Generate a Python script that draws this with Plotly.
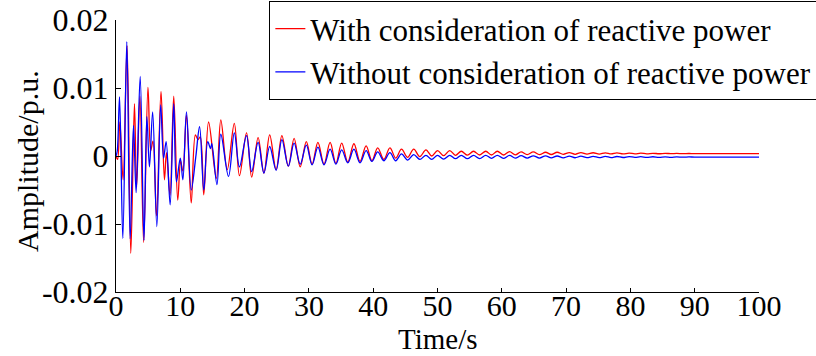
import plotly.graph_objects as go

# ---- data (extrema of the oscillations) ----
red_t_early = [0.0, 0.25, 0.6, 1.1, 1.72, 2.3, 2.87, 3.2, 3.72, 4.3, 4.97, 5.4, 5.75, 6.3, 7.0, 7.53,
               7.85, 8.4, 8.98, 9.6, 10.05, 10.4, 10.96, 11.7, 12.35, 12.75, 13.1, 13.65, 14.4, 15.6,
               16.3, 17.3]
red_v_early = [0.0, -0.0005, 0.005, -0.0035, 0.0162, -0.0143, 0.0077, -0.0046, 0.0088, -0.0127,
               0.0101, 0.0008, 0.0022, -0.0088, 0.0095, -0.0035, 0.0005, -0.0058, 0.0088, -0.0065,
               -0.0008, -0.0022, 0.006, -0.0069, 0.0031, 0.0024, 0.0028, -0.0057, 0.005, -0.0033,
               0.0053, -0.002]

blue_t_early = [0.0, 0.2, 0.55, 1.06, 1.68, 2.2, 2.72, 3.13, 3.76, 4.35, 4.8, 5.2, 5.7, 6.35, 6.95,
                7.4, 7.8, 8.42, 8.98, 9.4, 10.0, 10.4, 10.96, 11.7, 12.4, 13.0, 13.65, 14.27, 14.7,
                14.9, 15.7, 16.3, 17.5]
blue_v_early = [0.0, 0.0008, 0.0087, -0.0121, 0.0168, -0.0122, 0.0045, -0.0054, 0.0117, -0.0124,
                0.0058, -0.0016, 0.0065, -0.0104, 0.0075, -0.0003, 0.0021, -0.0072, 0.0077, -0.0038,
                -0.0003, -0.0035, 0.0065, -0.005, -0.0002, 0.0043, -0.005, 0.0021, 0.0011, 0.0018,
                -0.0042, 0.0032, -0.003]

tail_t = [18.4, 19.2, 20.3, 21.1, 22.1, 23.0, 23.9, 24.9, 25.8, 26.8, 27.7,
          28.65, 29.6, 30.5, 31.4, 32.35, 33.3, 34.2, 35.1, 36.05, 37.0, 37.95, 38.9, 39.8, 40.7,
          41.65, 42.6, 43.5, 44.4, 45.35, 46.3, 47.25, 48.2, 49.1, 50.0, 50.95, 51.9, 52.8, 53.7,
          54.65, 55.6, 56.55, 57.5, 58.4, 59.3, 60.25, 61.2, 62.1, 63.0, 63.95, 64.9, 65.85, 66.8,
          67.7, 68.6, 69.55, 70.5, 71.4, 72.3, 73.25, 74.2, 75.15, 76.1, 77.0, 77.9, 78.85, 79.8,
          80.7, 81.6, 82.55, 83.5, 84.45, 85.4, 86.3, 87.2, 88.15, 89.1, 90.0, 95.0, 100.0]

red_v_tail = [0.0048, -0.0029, 0.0034, -0.0031, 0.0027, -0.0025, 0.0031, -0.0020, 0.0030, -0.0015, 0.0026,
              -0.0016, 0.0021, -0.0012, 0.0020, -0.0012, 0.0020, -0.0011, 0.0019, -0.0009, 0.0018,
              -0.0008, 0.0015, -0.0007, 0.0012, -0.0005, 0.0012, -0.0003, 0.0010, -0.0002, 0.0010,
              -0.0001, 0.0009, 0.0, 0.0008, 0.00005, 0.0008, 0.0001, 0.0007, 0.00012, 0.0007,
              0.00015, 0.0007, 0.00015, 0.0007, 0.00015, 0.00065, 0.00018, 0.0006, 0.0002, 0.0006,
              0.0002, 0.00055, 0.00022, 0.00055, 0.00025, 0.0005, 0.00025, 0.0005, 0.00027, 0.00048,
              0.00028, 0.00046, 0.0003, 0.00045, 0.0003, 0.00043, 0.00031, 0.00042, 0.00032, 0.0004,
              0.00033, 0.00039, 0.00034, 0.00038, 0.00034, 0.00037, 0.00035, 0.00035, 0.00035]

blue_v_tail = [0.0034, -0.0016, 0.0030, -0.0023, 0.0020, -0.0025, 0.0014, -0.0021, 0.0024, -0.0015, 0.0019,
               -0.0012, 0.0016, -0.0013, 0.0013, -0.0013, 0.0010, -0.0012, 0.0009, -0.0010, 0.0010,
               -0.0010, 0.0008, -0.0008, 0.0006, -0.0007, 0.0005, -0.0007, 0.0003, -0.0006, 0.0002,
               -0.0005, 0.0001, -0.0005, 0.0001, -0.00045, 0.0001, -0.0004, 0.0001, -0.0004, 0.0001,
               -0.00038, 0.0001, -0.00035, 0.0001, -0.00035, 0.00008, -0.00032, 0.00005, -0.0003, 0.00003,
               -0.0003, 0.00002, -0.00028, 0.0, -0.00027, -0.00002, -0.00026, -0.00003, -0.00025, -0.00005,
               -0.00024, -0.00006, -0.00023, -0.00007, -0.00022, -0.00008, -0.00021, -0.0001, -0.0002, -0.00011,
               -0.0002, -0.00012, -0.00019, -0.00013, -0.00018, -0.00014, -0.00016, -0.00016, -0.00016]

x_ticks = [0, 10, 20, 30, 40, 50, 60, 70, 80, 90, 100]
y_ticks = [-0.02, -0.01, 0, 0.01, 0.02]
y_tick_text = ["-0.02", "-0.01", "0", "0.01", "0.02"]

series_names = ["With consideration of reactive power", "Without consideration of reactive power"]

FONT = "Liberation Serif"

red_t = red_t_early + tail_t
red_v = red_v_early + red_v_tail
blue_t = blue_t_early + tail_t
blue_v = blue_v_early + blue_v_tail

fig = go.Figure()
fig.add_trace(go.Scatter(x=red_t, y=red_v, mode="lines", name=series_names[0],
                         line=dict(color="#ff0000", width=1.3, shape="spline", smoothing=1.0)))
fig.add_trace(go.Scatter(x=blue_t, y=blue_v, mode="lines", name=series_names[1],
                         line=dict(color="#0000ff", width=1.3, shape="spline", smoothing=1.0)))

fig.update_layout(
    width=816, height=356,
    margin=dict(l=116, r=57, t=20, b=64, autoexpand=False),
    plot_bgcolor="white", paper_bgcolor="white",
    showlegend=True,
    legend=dict(x=0.2385, y=1.07, xanchor="left", yanchor="top",
                bordercolor="black", borderwidth=1, bgcolor="white",
                font=dict(family=FONT, size=31, color="black"),
                itemwidth=30, tracegroupgap=0),
    xaxis=dict(range=[0, 100], tickvals=x_ticks, ticks="inside", ticklen=4, tickcolor="black",
               showline=True, linecolor="black", linewidth=1, showgrid=False, zeroline=False,
               automargin=False, ticklabelstandoff=-13,
               tickfont=dict(family=FONT, size=30, color="black")),
    yaxis=dict(range=[-0.02, 0.02], tickvals=y_ticks, ticktext=y_tick_text, ticks="inside",
               ticklen=5, tickcolor="black", showline=True, linecolor="black", linewidth=1,
               showgrid=False, zeroline=False, automargin=False,
               tickfont=dict(family=FONT, size=32, color="black")),
    annotations=[
        dict(text="Time/s", xref="paper", yref="paper", x=0.501, y=-0.235,
             xanchor="center", yanchor="bottom", showarrow=False, borderpad=0,
             font=dict(family=FONT, size=29, color="black")),
        dict(text="Amplitude/p.u.", xref="paper", yref="paper", x=-0.1375, y=0.48,
             xanchor="center", yanchor="middle", textangle=-90, showarrow=False,
             font=dict(family=FONT, size=30, color="black")),
    ],
)

fig.write_html("out.html", config={"displayModeBar": False})
